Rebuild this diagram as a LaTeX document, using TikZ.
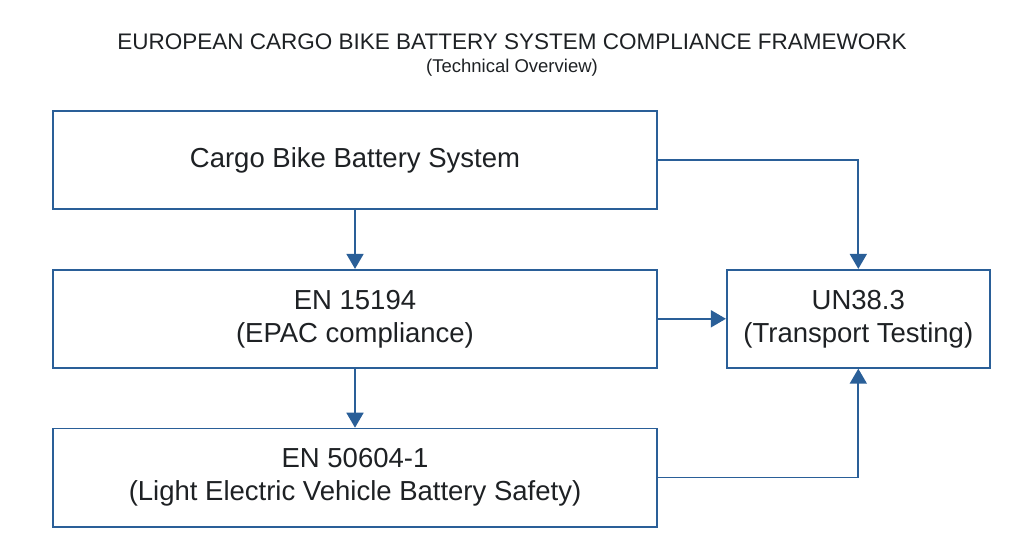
\documentclass[tikz,border=0pt]{standalone}
\usepackage{fontspec}
\setmainfont{Liberation Sans}
\usepackage{xcolor}
\usepackage{tikz}
\usetikzlibrary{positioning,arrows.meta}
\definecolor{cbblue}{HTML}{2A5F98}
\definecolor{cbdark}{HTML}{1E2124}
\newcommand{\ttl}[1]{{\fontsize{22.5pt}{24pt}\selectfont\color{cbdark}#1}}

\begin{document}
\begin{tikzpicture}[
  x=1pt, y=1pt,
  node distance=59pt,
  box/.style={draw=cbblue, line width=1.8pt, fill=white, minimum width=604pt, minimum height=98pt, align=center, inner sep=4pt, font=\fontsize{27.5pt}{33pt}\selectfont\color{cbdark}},
  sbox/.style={box, minimum width=263pt},
  arr/.style={-{Triangle[length=15pt,width=17pt]}, line width=1.8pt, draw=cbblue}
]
\useasboundingbox (0,0) rectangle (1024,559);
\node (title) at (512,517) {\ttl{EUROPEAN CARGO BIKE BATTERY SYSTEM COMPLIANCE FRAMEWORK}};
\node[font=\fontsize{18.5pt}{20pt}\selectfont\color{cbdark}] (sub) at (512,491) {(Technical Overview)};
\node[box] (sys) at (355,399) {Cargo Bike Battery System};
\node[box, below=of sys] (epac) {EN 15194\\(EPAC compliance)};
\node[box, below=of epac] (lev) {EN 50604-1\\(Light Electric Vehicle Battery Safety)};
\node[sbox, right=68pt of epac] (un) {UN38.3\\(Transport Testing)};
\draw[arr] (sys) -- (epac); \draw[arr] (epac) -- (lev); \draw[arr] (epac) -- (un);
\draw[arr] (sys.east) -| (un.north); \draw[arr] (lev.east) -| (un.south);
\end{tikzpicture}
\end{document}
